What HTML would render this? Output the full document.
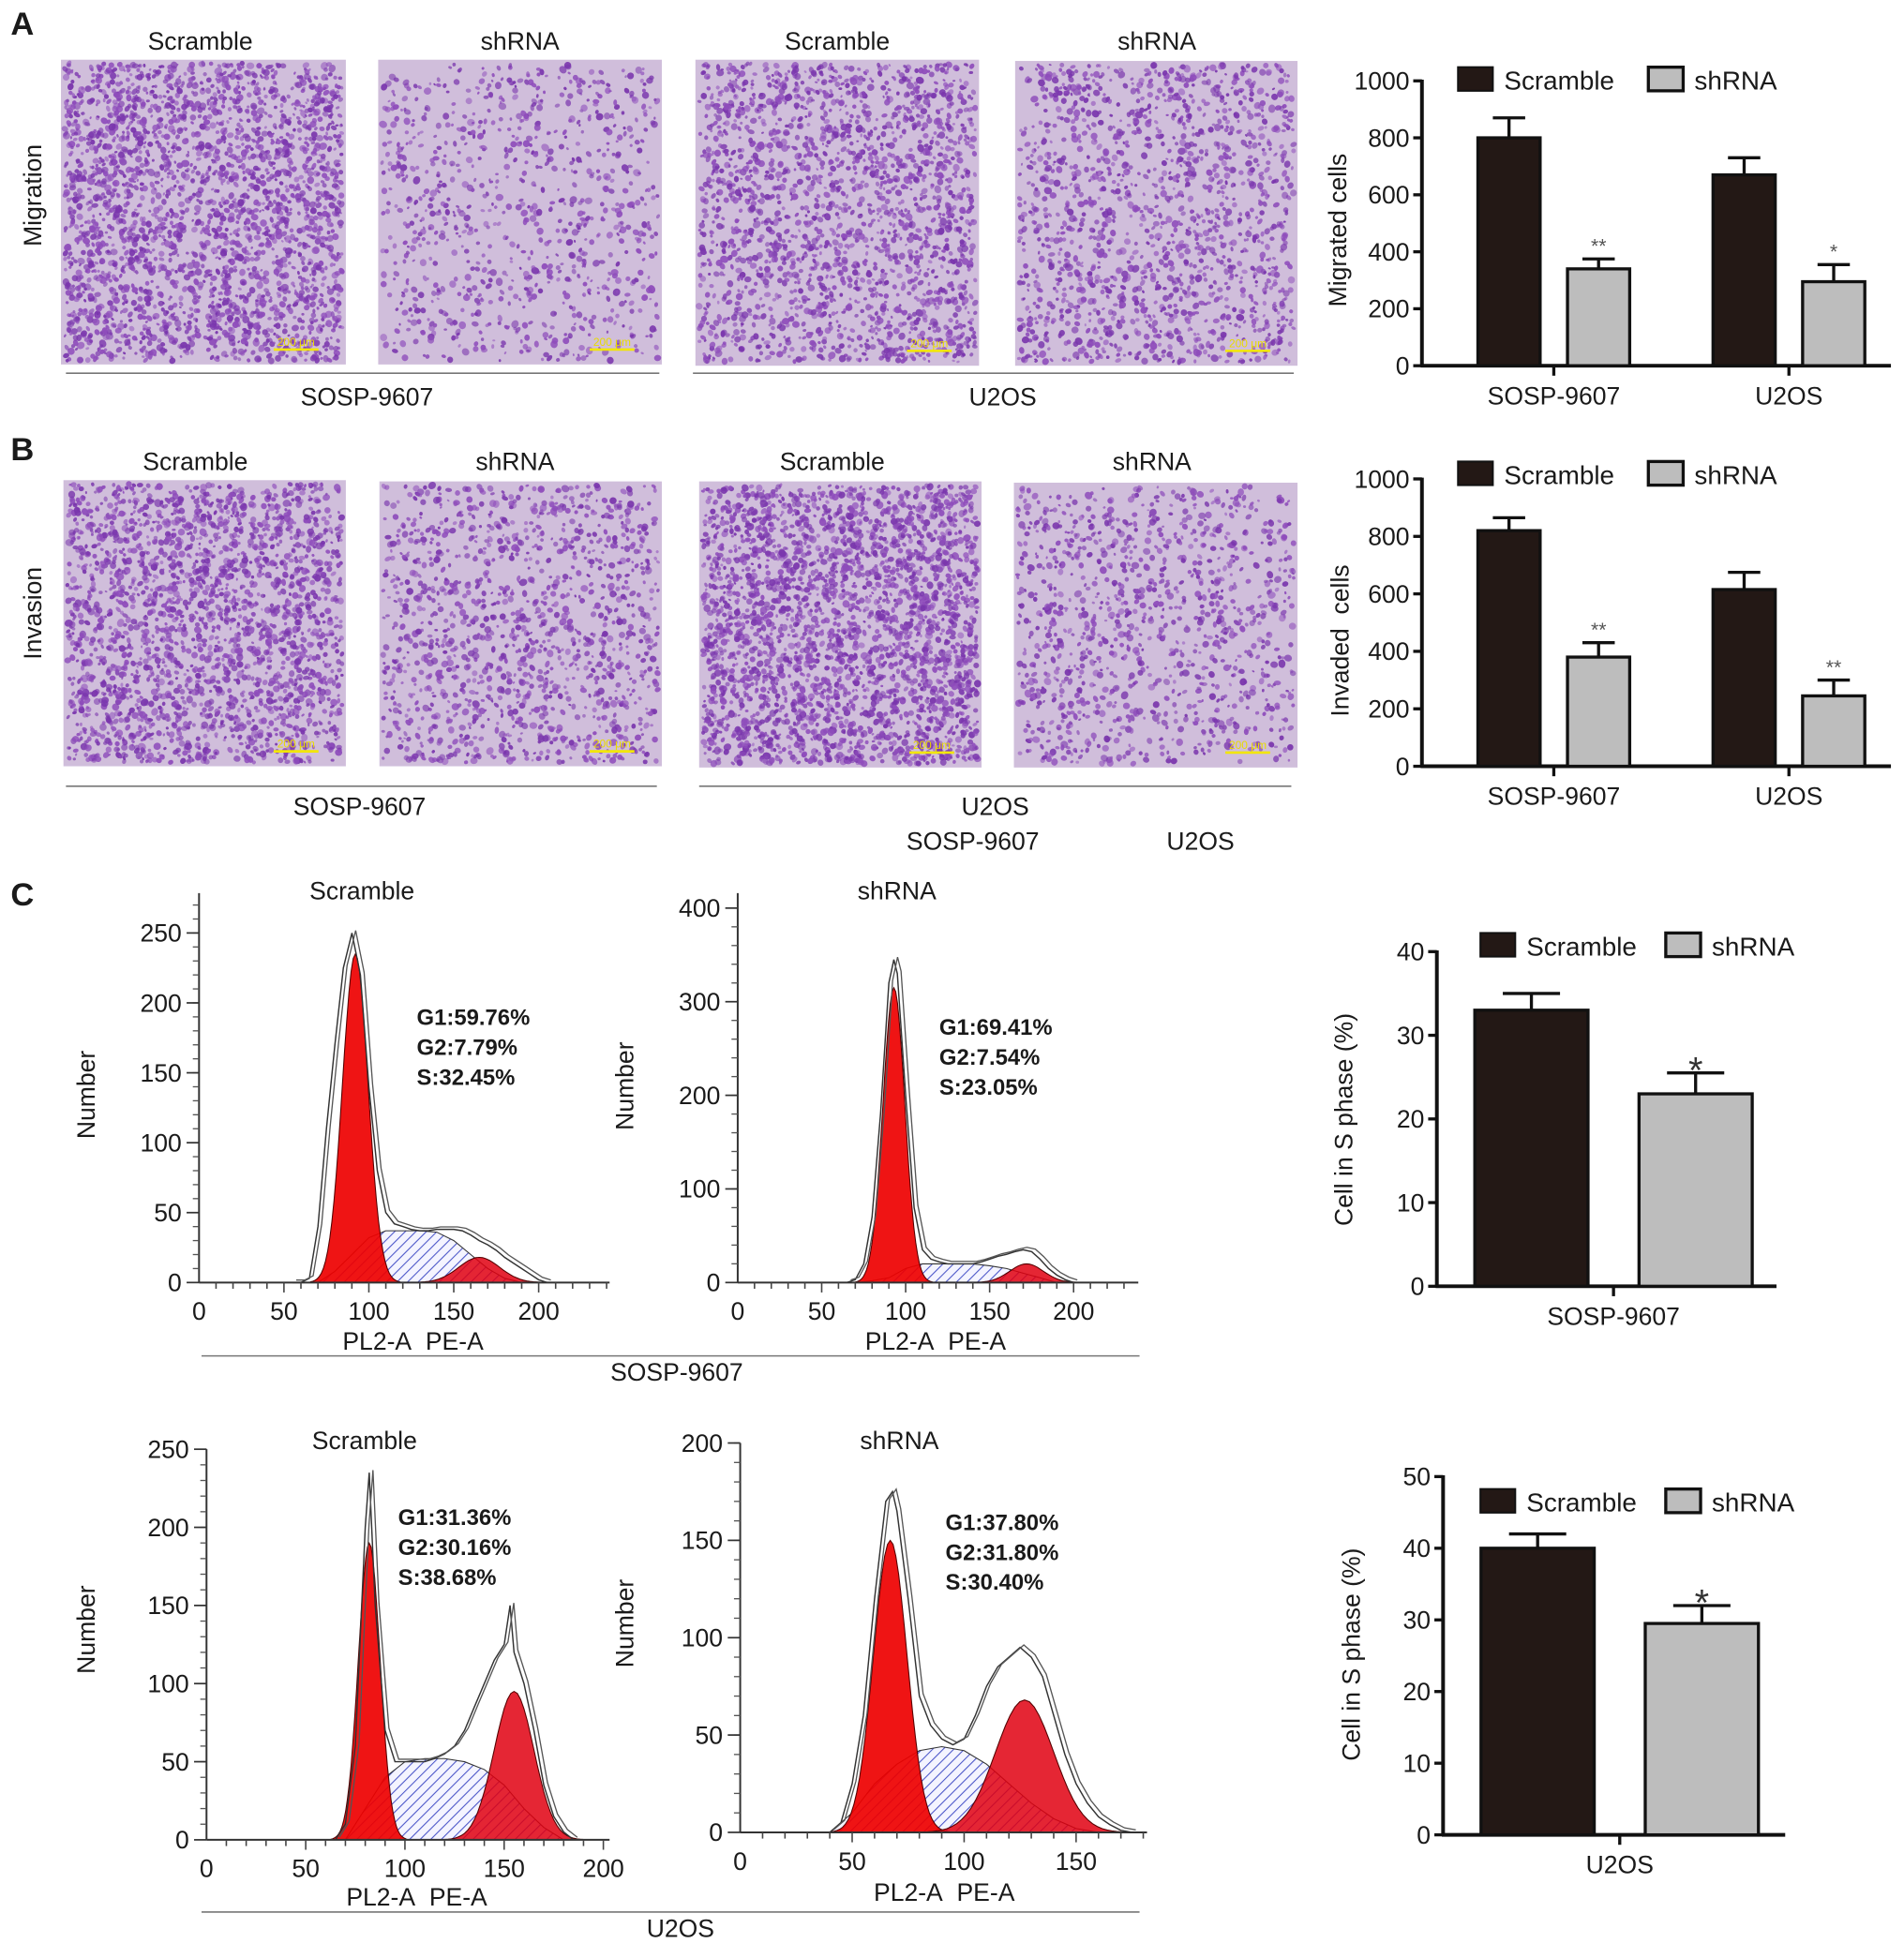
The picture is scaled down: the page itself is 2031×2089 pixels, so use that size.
<!DOCTYPE html>
<html><head><meta charset="utf-8"><style>
html,body{margin:0;padding:0;background:#fff;}
svg{display:block;font-family:"Liberation Sans",sans-serif;}
</style></head><body>
<svg id="fig" xmlns="http://www.w3.org/2000/svg" width="2031" height="2089" viewBox="0 0 1530.5 1574" preserveAspectRatio="none">
<defs>
<pattern id="hatch" patternUnits="userSpaceOnUse" width="6" height="6" patternTransform="rotate(45)">
<rect width="6" height="6" fill="#f4f4ff"/><line x1="0" y1="0" x2="0" y2="6" stroke="#4a55c8" stroke-width="1.6"/>
</pattern>
</defs>
</svg>
<script>
// ---------- Bar chart data ----------
const migCats = ["SOSP-9607","U2OS"];
const migScramble = [800, 670];
const migScrambleErr = [870, 730];
const migShrna = [340, 295];
const migShrnaErr = [375, 355];
const migStars = ["**","*"];
const migTicks = [0,200,400,600,800,1000];

const invCats = ["SOSP-9607","U2OS"];
const invScramble = [820, 615];
const invScrambleErr = [865, 675];
const invShrna = [380, 245];
const invShrnaErr = [430, 300];
const invStars = ["**","**"];
const invTicks = [0,200,400,600,800,1000];

const sSospCats = ["SOSP-9607"];
const sSospScramble = [33];
const sSospScrambleErr = [35];
const sSospShrna = [23];
const sSospShrnaErr = [25.5];
const sSospStars = ["*"];
const sSospTicks = [0,10,20,30,40];

const sU2Cats = ["U2OS"];
const sU2Scramble = [40];
const sU2ScrambleErr = [42];
const sU2Shrna = [29.5];
const sU2ShrnaErr = [32];
const sU2Stars = ["*"];
const sU2Ticks = [0,10,20,30,40,50];

// ---------- Histogram data ----------
const h1EnvX = [55,60,65,70,75,80,85,90,95,100,105,110,115,120,125,130,135,140,145,150,155,160,165,170,175,180,185,190,195,200,205];
const h1EnvY = [0,0,3,40,110,170,225,250,220,140,80,50,42,40,38,37,37,38,38,38,37,34,30,27,23,18,14,10,6,2,0];
const h1SX = [70,80,90,100,110,120,130,140,150,160,170,180,190];
const h1SY = [0,8,20,32,37,37,37,36,30,20,10,3,0];
const h1G1 = [92,235,7.5]; const h1G2 = [165,18,12];
const h1Ticks = [0,50,100,150,200,250]; const h1XTicks=[0,50,100,150,200];

const h2EnvX = [65,70,75,80,85,90,93,95,100,105,110,115,120,125,130,135,140,145,150,155,160,165,170,175,180,185,190,195,200];
const h2EnvY = [0,3,20,70,180,320,345,330,200,80,35,25,22,20,20,20,20,22,25,28,30,33,35,33,25,15,8,3,0];
const h2SX = [70,80,90,100,110,120,130,140,150,160,170,180,190];
const h2SY = [0,2,5,15,20,20,20,20,18,15,10,5,0];
const h2G1 = [93,315,6.5]; const h2G2 = [172,20,10];
const h2Ticks = [0,100,200,300,400]; const h2XTicks=[0,50,100,150,200];

const h3EnvX = [65,70,75,80,82,85,90,95,100,105,110,115,120,125,130,135,140,145,150,153,155,160,165,170,175,180,185];
const h3EnvY = [0,10,60,200,235,150,70,50,50,50,50,52,55,60,70,85,100,115,125,150,120,100,70,35,15,5,0];
const h3SX = [70,80,90,100,110,120,130,140,150,160,170,180];
const h3SY = [0,20,40,50,52,52,50,45,35,20,8,0];
const h3G1 = [82,190,5.5]; const h3G2 = [155,95,10];
const h3Ticks = [0,50,100,150,200,250]; const h3XTicks=[0,50,100,150,200];

const h4EnvX = [40,45,50,55,60,65,68,70,75,80,85,90,95,100,105,110,115,120,125,130,135,140,145,150,155,160,165,170,175];
const h4EnvY = [0,5,25,60,120,170,175,165,120,70,55,48,45,48,60,75,85,90,95,90,80,60,40,25,15,8,4,1,0];
const h4SX = [40,50,60,70,80,90,100,110,120,130,140,150,160];
const h4SY = [0,10,25,35,42,44,42,35,25,15,7,2,0];
const h4G1 = [67,150,7.5]; const h4G2 = [127,68,13];
const h4Ticks = [0,50,100,150,200]; const h4XTicks=[0,50,100,150];

const svg = document.getElementById('fig');
const NS = "http://www.w3.org/2000/svg";
function mk(tag, attrs, parent){const e=document.createElementNS(NS,tag);for(const k in attrs)e.setAttribute(k,attrs[k]);(parent||svg).appendChild(e);return e;}
function txt(s,x,y,size,parent,extra){const e=mk('text',Object.assign({x:x,y:y,'font-size':size,'text-anchor':'middle',fill:'#1a1a1a'},extra||{}),parent);e.textContent=s;return e;}

let seed=12345;function rnd(){seed=(seed*16807)%2147483647;return seed/2147483647;}

let t;
t=txt("A",18,28,26,svg,{'font-weight':'bold'});


t=txt("B",18,370,26,svg,{'font-weight':'bold'});


t=txt("C",18,728,26,svg,{'font-weight':'bold'});



function micro(x,y,w,h,n,name){
  const g=mk('g',{});
  
  
  mk('rect',{x:x,y:y,width:w,height:h,fill:'#d0bedb'},g);
  for(let i=0;i<n;i++){
    const cx=x+3+rnd()*(w-6), cy=y+3+rnd()*(h-6);
    const r=1.1+rnd()*1.8;
    mk('ellipse',{cx:cx,cy:cy,rx:r,ry:r*(0.6+rnd()*0.6),fill:rnd()<0.5?'#7a36ad':'#8e4cbb',opacity:(0.5+rnd()*0.45).toFixed(2),transform:`rotate(${Math.floor(rnd()*180)} ${cx.toFixed(1)} ${cy.toFixed(1)})`},g);
  }
  const sb=mk('line',{x1:x+w-58,y1:y+h-12,x2:x+w-22,y2:y+h-12,stroke:'#f2e600','stroke-width':2},g);
  
  
  const st=txt("200 μm",x+w-40,y+h-15,9,g,{fill:'#e8dc00'});
  
  
}
micro(49,48,229,245,2600,'micrograph-migration-sosp-scramble');
micro(304,48,228,245,900,'micrograph-migration-sosp-shrna');
micro(559,48,228,246,2000,'micrograph-migration-u2os-scramble');
micro(816,49,227,245,1500,'micrograph-migration-u2os-shrna');
micro(51,386,227,230,2300,'micrograph-invasion-sosp-scramble');
micro(305,387,227,229,1300,'micrograph-invasion-sosp-shrna');
micro(562,387,227,230,2800,'micrograph-invasion-u2os-scramble');
micro(815,388,228,229,1100,'micrograph-invasion-u2os-shrna');

const colTitles=[[161,33,"Scramble"],[418,33,"shRNA"],[673,33,"Scramble"],[930,33,"shRNA"],[157,371,"Scramble"],[414,371,"shRNA"],[669,371,"Scramble"],[926,371,"shRNA"]];
colTitles.forEach(c=>{const e=txt(c[2],c[0],c[1]+7,20,svg);

});
t=txt("Migration",33,157,20,svg,{transform:'rotate(-90 33 157)'});


t=txt("Invasion",33,493,20,svg,{transform:'rotate(-90 33 493)'});


const groupLines=[[53,530,300,295,326,"SOSP-9607"],[557,1040,300,806,326,"U2OS"],[53,528,632,289,655,"SOSP-9607"],[562,1038,632,800,655,"U2OS"],[162,916,1090,544,1110,"SOSP-9607"],[162,916,1537,547,1557,"U2OS"]];
groupLines.forEach(l=>{const ln=mk('line',{x1:l[0],x2:l[1],y1:l[2],y2:l[2],stroke:'#777','stroke-width':1.2});


const e=txt(l[5],l[3],l[4],20,svg);

});
t=txt("SOSP-9607",782,683,20,svg);


t=txt("U2OS",965,683,20,svg);



function barChart(o){
  const g=mk('g',{});
  
  
  const y=v=>o.y0-(v/o.ymax)*(o.y0-o.ytop);
  const ax=mk('line',{x1:o.x0,y1:o.y0+1,x2:o.x0,y2:o.ytop-1,stroke:'#111','stroke-width':3},g);
  
  
  const xa=mk('line',{x1:o.x0-1,y1:o.y0,x2:o.x1,y2:o.y0,stroke:'#111','stroke-width':3},g);
  
  
  o.ticks.forEach(v=>{
    const tk=mk('line',{x1:o.x0-7,x2:o.x0,y1:y(v),y2:y(v),stroke:'#111','stroke-width':2.5},g);
    
    
    const tl=txt(String(v),o.x0-10,y(v)+7,20,g,{'text-anchor':'end'});
    
    
  });
  o.cats.forEach((c,i)=>{
    const gc=o.centers[i];
    const tk=mk('line',{x1:gc,x2:gc,y1:o.y0,y2:o.y0+8,stroke:'#111','stroke-width':2.5},g);
    
    
    const cl=txt(c,gc,o.y0+31,20,g);
    
    
    [[o.s1,o.e1,'#231815',-o.off,'scramble'],[o.s2,o.e2,'#bdbdbd',o.off,'shrna']].forEach(s=>{
      const bx=gc+s[3]-o.bw/2;
      const eb=mk('line',{x1:gc+s[3],x2:gc+s[3],y1:y(s[0][i]),y2:y(s[1][i]),stroke:'#111','stroke-width':2.5},g);
      
      
      const cp=mk('line',{x1:gc+s[3]-o.cap/2,x2:gc+s[3]+o.cap/2,y1:y(s[1][i]),y2:y(s[1][i]),stroke:'#111','stroke-width':2.5},g);
      
      
      const b=mk('rect',{x:bx,y:y(s[0][i]),width:o.bw,height:o.y0-y(s[0][i]),fill:s[2],stroke:'#111','stroke-width':2.5},g);
      
      
    });
    const sx=gc+o.off;
    const st=txt(o.stars[i],sx,y(o.e2[i])-o.starGap,o.starSize,g,{fill:o.starSize>20?'#333':'#555'});
    
    
  });
  const lg=mk('g',{},g);
  
  
  const r1=mk('rect',{x:o.lx,y:o.ly-10,width:28,height:19,fill:'#231815',stroke:'#111','stroke-width':1.5},lg);
  
  
  const l1=txt("Scramble",o.lx+37,o.ly+8,21,lg,{'text-anchor':'start'});
  
  
  const r2=mk('rect',{x:o.lx2,y:o.ly-10,width:28,height:19,fill:'#bdbdbd',stroke:'#111','stroke-width':2.5},lg);
  
  
  const l2=txt("shRNA",o.lx2+37,o.ly+8,21,lg,{'text-anchor':'start'});
  
  
  const yt=txt(o.ytitle,o.ytx,o.yty,20,g,{transform:`rotate(-90 ${o.ytx} ${o.yty})`});
  
  
}
barChart({name:'migration-bar-chart',x0:1143,x1:1520,y0:294,ytop:65,ymax:1000,ticks:migTicks,cats:migCats,centers:[1249,1438],off:36,bw:50,cap:26,
  s1:migScramble,e1:migScrambleErr,s2:migShrna,e2:migShrnaErr,stars:migStars,starGap:5,starSize:16,lx:1172,lx2:1325,ly:64,ytitle:"Migrated cells",ytx:1082,yty:185});
barChart({name:'invasion-bar-chart',x0:1143,x1:1520,y0:616,ytop:385,ymax:1000,ticks:invTicks,cats:invCats,centers:[1249,1438],off:36,bw:50,cap:26,
  s1:invScramble,e1:invScrambleErr,s2:invShrna,e2:invShrnaErr,stars:invStars,starGap:5,starSize:16,lx:1172,lx2:1325,ly:381,ytitle:"Invaded\u00a0\u00a0cells",ytx:1084,yty:515});
barChart({name:'s-phase-sosp-bar-chart',x0:1155,x1:1428,y0:1034,ytop:765,ymax:40,ticks:sSospTicks,cats:sSospCats,centers:[1297],off:66,bw:91,cap:46,
  s1:sSospScramble,e1:sSospScrambleErr,s2:sSospShrna,e2:sSospShrnaErr,stars:sSospStars,starGap:-8,starSize:30,lx:1190,lx2:1339,ly:760,ytitle:"Cell in S phase (%)",ytx:1087,yty:900});
barChart({name:'s-phase-u2os-bar-chart',x0:1160,x1:1435,y0:1475,ytop:1187,ymax:50,ticks:sU2Ticks,cats:sU2Cats,centers:[1302],off:66,bw:91,cap:46,
  s1:sU2Scramble,e1:sU2ScrambleErr,s2:sU2Shrna,e2:sU2ShrnaErr,stars:sU2Stars,starGap:-8,starSize:30,lx:1190,lx2:1339,ly:1207,ytitle:"Cell in S phase (%)",ytx:1093,yty:1330});

function hist(o){
  const g=mk('g',{});
  
  
  const X=v=>o.x0+v*o.kx, Y=c=>o.y0-c*o.ky;
  const pts=(xs,ys)=>xs.map((v,i)=>X(v).toFixed(1)+','+Y(ys[i]).toFixed(1)).join(' ');
  function gauss(p){const a=[];for(let v=p[0]-3.5*p[2];v<=p[0]+3.5*p[2];v+=p[2]/6){a.push(X(v).toFixed(1)+','+Y(p[1]*Math.exp(-0.5*((v-p[0])/p[2])**2)).toFixed(1));}
    return X(p[0]-3.5*p[2])+','+Y(0)+' '+a.join(' ')+' '+X(p[0]+3.5*p[2])+','+Y(0);}
  const s=mk('polygon',{points:pts(o.sx,o.sy),fill:'url(#hatch)',stroke:'#333','stroke-width':0.8},g);
  
  
  const g1=mk('polygon',{points:gauss(o.g1),fill:'#ee0000','fill-opacity':0.92,stroke:'#550000','stroke-width':0.8},g);
  
  
  const g2=mk('polygon',{points:gauss(o.g2),fill:'#e00010','fill-opacity':0.85,stroke:'#550000','stroke-width':0.8},g);
  
  
  const e1=mk('polyline',{points:pts(o.ex,o.ey),fill:'none',stroke:'#333','stroke-width':1.1},g);
  
  
  const e2=mk('polyline',{points:pts(o.ex,o.ey),fill:'none',stroke:'#555','stroke-width':1,transform:'translate(3,-2)'},g);
  
  
  const ya=mk('line',{x1:o.x0,x2:o.x0,y1:o.y0,y2:o.ytop,stroke:'#333','stroke-width':1.5},g);
  
  
  const xa=mk('line',{x1:o.x0,x2:o.xend,y1:o.y0,y2:o.y0,stroke:'#333','stroke-width':1.5},g);
  
  
  for(let v=o.ystep/5;Y(v)>=o.ytop;v+=o.ystep/5){const m=mk('line',{x1:o.x0-5,x2:o.x0,y1:Y(v),y2:Y(v),stroke:'#555','stroke-width':1},g);
    
    }
  for(let v=10;X(v)<=o.xend;v+=10){const m=mk('line',{x1:X(v),x2:X(v),y1:o.y0,y2:o.y0+(v%50?5:8),stroke:'#444','stroke-width':1.2},g);
    
    }
  o.yt.forEach(v=>{const m=mk('line',{x1:o.x0-10,x2:o.x0,y1:Y(v),y2:Y(v),stroke:'#333','stroke-width':1.3},g);
    
    
    const l=txt(String(v),o.x0-14,Y(v)+7,20,g,{'text-anchor':'end'});
    
    });
  o.xt.forEach(v=>{const l=txt(String(v),X(v),o.y0+30,20,g);
    
    });
  const ti=txt(o.title,o.tx,o.ty,20,g);
  
  
  const yl=txt("Number",o.nx,o.ny,20,g,{transform:`rotate(-90 ${o.nx} ${o.ny})`});
  
  
  const xl=txt("PL2-A\u00a0\u00a0PE-A",o.xlx,o.xly,20,g);
  
  
  o.stats.forEach((s,i)=>{const l=txt(s,o.sx0,o.sy0+i*24,18,g,{'text-anchor':'start','font-weight':'bold'});
    
    });
}
hist({name:'histogram-sosp-scramble',x0:160,y0:1031,kx:1.365,ky:1.124,ytop:718,xend:490,ystep:50,ex:h1EnvX,ey:h1EnvY,sx:h1SX,sy:h1SY,g1:h1G1,g2:h1G2,yt:h1Ticks,xt:h1XTicks,
  title:"Scramble",tx:291,ty:723,nx:76,ny:880,xlx:332,xly:1085,stats:["G1:59.76%","G2:7.79%","S:32.45%"],sx0:335,sy0:824});
hist({name:'histogram-sosp-shrna',x0:593,y0:1031,kx:1.35,ky:0.7525,ytop:718,xend:915,ystep:100,ex:h2EnvX,ey:h2EnvY,sx:h2SX,sy:h2SY,g1:h2G1,g2:h2G2,yt:h2Ticks,xt:h2XTicks,
  title:"shRNA",tx:721,ty:723,nx:509,ny:873,xlx:752,xly:1085,stats:["G1:69.41%","G2:7.54%","S:23.05%"],sx0:755,sy0:832});
hist({name:'histogram-u2os-scramble',x0:166,y0:1479,kx:1.595,ky:1.256,ytop:1165,xend:490,ystep:50,ex:h3EnvX,ey:h3EnvY,sx:h3SX,sy:h3SY,g1:h3G1,g2:h3G2,yt:h3Ticks,xt:h3XTicks,
  title:"Scramble",tx:293,ty:1165,nx:76,ny:1310,xlx:335,xly:1532,stats:["G1:31.36%","G2:30.16%","S:38.68%"],sx0:320,sy0:1226});
hist({name:'histogram-u2os-shrna',x0:595,y0:1473,kx:1.8,ky:1.565,ytop:1160,xend:922,ystep:50,ex:h4EnvX,ey:h4EnvY,sx:h4SX,sy:h4SY,g1:h4G1,g2:h4G2,yt:h4Ticks,xt:h4XTicks,
  title:"shRNA",tx:723,ty:1165,nx:509,ny:1305,xlx:759,xly:1528,stats:["G1:37.80%","G2:31.80%","S:30.40%"],sx0:760,sy0:1230});
</script>
</body></html>
